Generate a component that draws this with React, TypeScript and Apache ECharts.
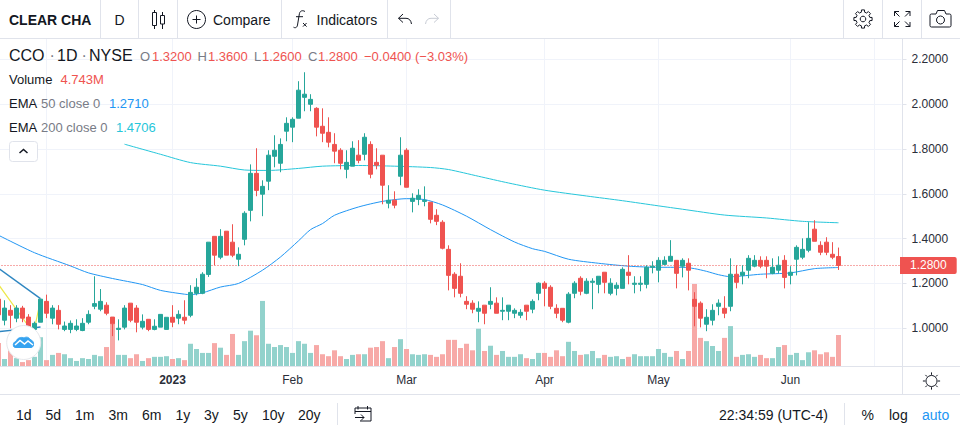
import React, { useEffect, useRef } from "react";
import * as echarts from "echarts";

// [open, close, low, high], oldest first
const candles: number[][] = [
  [1.13,1.06,1.04,1.14],[1.036,1.09,1.013,1.125],[1.08,1.058,1.0,1.103],[1.045,1.09,1.027,1.103],[1.09,1.045,1.027,1.1],
  [1.05,1.005,1.0,1.063],[0.995,1.022,0.99,1.03],[1.027,1.13,1.027,1.13],[1.12,1.067,1.045,1.15],[1.045,1.09,1.018,1.103],
  [1.08,1.018,0.995,1.103],[0.995,1.01,0.987,1.03],[0.995,1.022,0.978,1.035],[0.995,1.01,0.987,1.04],[0.99,1.022,0.987,1.045],
  [1.027,1.062,1.018,1.08],[1.098,1.11,1.085,1.232],[1.085,1.12,1.076,1.175],[1.103,1.067,1.058,1.116],[1.05,1.02,0.965,1.05],
  [0.995,1.0,0.946,1.04],[1.005,1.09,0.995,1.103],[1.112,1.036,1.027,1.112],[1.09,1.027,0.982,1.103],[1.005,1.031,0.995,1.062],
  [1.04,0.995,0.987,1.04],[0.995,1.009,0.991,1.04],[1.005,1.062,1.005,1.062],[0.995,1.049,0.995,1.049],[1.049,1.027,1.005,1.103],
  [1.045,1.062,1.018,1.08],[1.049,1.036,1.018,1.125],[1.058,1.16,1.049,1.192],[1.156,1.183,1.147,1.223],[1.156,1.241,1.152,1.25],
  [1.24,1.384,1.229,1.384],[1.41,1.326,1.281,1.41],[1.317,1.41,1.308,1.442],[1.433,1.326,1.326,1.433],[1.384,1.326,1.317,1.464],
  [1.308,1.33,1.277,1.361],[1.397,1.513,1.37,1.522],[1.526,1.691,1.477,1.731],[1.691,1.615,1.589,1.803],[1.598,1.633,1.5,1.66],
  [1.656,1.772,1.616,1.794],[1.767,1.794,1.718,1.861],[1.736,1.82,1.696,1.847],[1.879,1.914,1.834,1.941],[1.897,1.932,1.83,1.941],
  [1.937,2.062,1.937,2.102],[2.03,2.044,1.968,2.142],[1.999,2.021,1.968,2.044],[1.981,1.897,1.856,1.986],[1.901,1.87,1.83,1.981],
  [1.874,1.83,1.807,1.941],[1.82,1.79,1.736,1.87],[1.794,1.736,1.709,1.803],[1.709,1.74,1.669,1.794],[1.723,1.803,1.723,1.834],
  [1.772,1.749,1.736,1.839],[1.776,1.852,1.749,1.87],[1.82,1.687,1.669,1.834],[1.74,1.727,1.709,1.803],[1.772,1.638,1.553,1.772],
  [1.558,1.571,1.535,1.638],[1.571,1.549,1.535,1.611],[1.678,1.772,1.638,1.852],[1.794,1.629,1.629,1.803],[1.566,1.58,1.517,1.602],
  [1.575,1.593,1.549,1.62],[1.566,1.571,1.544,1.633],[1.562,1.486,1.468,1.562],[1.504,1.477,1.46,1.531],[1.473,1.357,1.352,1.482],
  [1.352,1.236,1.169,1.37],[1.241,1.178,1.138,1.25],[1.232,1.156,1.138,1.29],[1.12,1.107,1.085,1.143],[1.112,1.085,1.067,1.125],
  [1.076,1.089,1.027,1.12],[1.103,1.067,1.018,1.103],[1.107,1.12,1.085,1.183],[1.112,1.067,1.067,1.138],[1.076,1.08,1.036,1.138],
  [1.076,1.103,1.036,1.103],[1.067,1.08,1.045,1.089],[1.058,1.071,1.045,1.085],[1.103,1.076,1.036,1.103],[1.085,1.12,1.067,1.129],
  [1.156,1.201,1.125,1.205],[1.201,1.178,1.098,1.21],[1.183,1.098,1.085,1.192],[1.089,1.067,1.045,1.107],[1.089,1.036,1.027,1.089],
  [1.027,1.152,1.022,1.161],[1.156,1.201,1.134,1.21],[1.223,1.165,1.147,1.232],[1.156,1.21,1.152,1.223],[1.205,1.21,1.085,1.223],
  [1.196,1.232,1.156,1.232],[1.25,1.205,1.156,1.25],[1.156,1.201,1.147,1.223],[1.178,1.192,1.147,1.205],[1.178,1.263,1.178,1.272],
  [1.25,1.236,1.196,1.326],[1.196,1.201,1.156,1.232],[1.196,1.201,1.165,1.232],[1.196,1.272,1.178,1.281],[1.272,1.277,1.245,1.299],
  [1.259,1.303,1.205,1.317],[1.285,1.303,1.281,1.321],[1.299,1.321,1.299,1.393],[1.303,1.245,1.178,1.303],[1.277,1.303,1.227,1.312],
  [1.29,1.259,1.169,1.312],[1.129,1.098,1.009,1.161],[1.112,1.045,1.004,1.12],[1.018,1.049,0.987,1.085],[1.036,1.08,1.013,1.107],
  [1.098,1.112,1.058,1.129],[1.089,1.067,1.045,1.143],[1.098,1.241,1.076,1.312],[1.241,1.205,1.178,1.281],[1.236,1.25,1.196,1.281],
  [1.259,1.312,1.223,1.326],[1.277,1.303,1.272,1.326],[1.303,1.277,1.268,1.321],[1.303,1.277,1.223,1.321],[1.245,1.272,1.241,1.312],
  [1.259,1.281,1.245,1.321],[1.303,1.227,1.178,1.326],[1.236,1.25,1.196,1.277],[1.308,1.361,1.236,1.37],[1.317,1.352,1.308,1.401],
  [1.348,1.401,1.339,1.473],[1.442,1.388,1.388,1.482],[1.37,1.339,1.326,1.388],[1.384,1.339,1.326,1.406],[1.33,1.317,1.308,1.384],
  [1.32,1.28,1.26,1.36],
];

// millions of shares, oldest first
const volumes: number[] = [
  3.5,1.07,2.6,1.2,0.6,0.9,1.4,4.4,0.9,1.7,
  2.0,1.8,1.2,0.77,1.2,1.07,1.7,1.5,2.9,6.4,
  1.7,1.7,1.2,1.8,0.77,1.2,1.4,1.4,1.5,1.07,
  1.2,0.9,3.4,2.6,2.0,2.0,3.5,2.8,1.7,4.9,
  1.7,3.8,5.4,4.7,9.95,3.4,2.9,3.2,2.9,2.0,
  3.8,3.4,2.0,3.2,1.8,1.5,2.4,1.5,1.07,1.7,
  1.8,1.8,2.8,2.9,3.8,1.2,2.9,4.1,2.6,1.8,
  1.7,1.8,1.7,1.4,1.8,4.0,4.0,2.75,3.4,2.4,
  5.7,2.3,3.1,1.7,2.3,1.4,1.4,1.8,1.2,1.07,
  2.0,2.0,1.4,2.4,1.5,3.7,2.3,1.7,1.8,2.3,
  1.2,1.7,1.4,1.5,1.07,1.4,1.8,1.5,1.5,1.5,
  2.6,2.0,1.4,2.3,1.07,2.3,12.55,4.3,3.8,3.06,
  2.3,4.3,6.1,1.4,1.7,1.8,1.4,1.7,1.2,1.2,
  2.9,3.2,1.7,2.0,0.9,2.1,2.4,1.8,2.1,1.4,
  4.743,
];

const emptyBarsAfterLast = 10;
const tickIndexes = [8, 29, 49, 68, 91, 110, 132, 146];
const tickLabels = ["Dec", "2023", "Feb", "Mar", "Apr", "May", "Jun", "21"];
const priceTicks = [1.0, 1.2, 1.4, 1.6, 1.8, 2.0, 2.2];

// [bar index, value]
const ema50Points = [
  [0,1.415],[6,1.337],[12,1.278],[15,1.247],[19,1.222],[24,1.195],[27,1.169],[31,1.152],[32,1.15],[34,1.158],
  [37,1.184],[40,1.2],[44,1.259],[47,1.318],[50,1.39],[52,1.44],[54,1.467],[56,1.504],[60,1.541],[64,1.566],[68,1.578],
  [71,1.574],[74,1.55],[78,1.5],[82,1.44],[86,1.385],[89,1.355],[91,1.343],[95,1.308],[100,1.29],[105,1.277],
  [110,1.272],[114,1.272],[116,1.266],[118,1.254],[120,1.239],[122,1.23],[127,1.241],[132,1.247],[136,1.266],[140,1.271],
];
const ema200Points = [
  [21,1.821],[27,1.776],[32,1.739],[37,1.723],[41,1.706],[45,1.704],[50,1.713],[54,1.723],[60,1.726],[66,1.723],
  [72,1.717],[75,1.708],[80,1.678],[85,1.648],[91,1.616],[98,1.59],[104,1.569],[110,1.546],[114,1.531],[121,1.505],
  [128,1.492],[134,1.477],[140,1.4706],
];
const extraLineA = [[0,1.268],[7,1.132]];
const extraLineB = [[0,0.985],[4,0.996],[7,1.006]];
const extraLineC = [[0,1.195],[5,1.009],[6,0.998],[7,1.125]];

const periods = ["1d", "5d", "1m", "3m", "6m", "1y", "3y", "5y", "10y", "20y"];
const periodX = [16, 45.5, 75, 108.5, 142, 175.5, 204, 233, 262, 298];

const UP = "#26a69a", DOWN = "#ef5350", UPV = "#92d2cc", DOWNV = "#f7a9a7";
const INK = "#131722", MUTED = "#787b86", RULE = "#e0e3eb", GRID = "#f0f3fa", BLUE = "#2196f3", CYAN = "#26c6da";
const FONT = "'Liberation Sans', Arial, sans-serif";

function gearPath(cx: number, cy: number) {
  const n = 8, ro = 9.2, ri = 7;
  let d = "";
  for (let i = 0; i < n; i++) {
    const a = (i * 2 * Math.PI) / n - Math.PI / 2, s = Math.PI / n;
    const pts: number[][] = [[a - s * 0.42, ro], [a + s * 0.42, ro], [a + s * 0.6, ri], [a + s * 1.4, ri]];
    pts.forEach(([t, r], j) => {
      d += (i === 0 && j === 0 ? "M" : "L") + (cx + r * Math.cos(t)).toFixed(2) + " " + (cy + r * Math.sin(t)).toFixed(2);
    });
  }
  return d + "Z";
}
function sunPath(cx: number, cy: number) {
  let d = "";
  for (let i = 0; i < 8; i++) {
    const a = (i * Math.PI) / 4;
    d += "M" + (cx + 6.2 * Math.cos(a)).toFixed(2) + " " + (cy + 6.2 * Math.sin(a)).toFixed(2) +
      "L" + (cx + 8.6 * Math.cos(a)).toFixed(2) + " " + (cy + 8.6 * Math.sin(a)).toFixed(2);
  }
  return d;
}

const icons: Record<string, string> = {
  icCandle: "M152.5 12.5h4v13h-4zM154.5 10v2.5M154.5 25.5v3.5M160.5 15.5h4v8.5h-4zM162.5 12v3.5M162.5 24v5",
  icPlus: "M192.5 19.5h8M196.5 15.5v8",
  icF: "M305 11.5c-2.5-1.5-5-.8-5.6 2.2L297.5 25c-.5 2.8-2.3 3.2-4 2.2M296 16.7h7",
  icX: "M303 23l3.6 3.6M306.6 23L303 26.6",
  icUndo: "M403 14l-4.5 4.3 4.5 4.2M398.5 18.3h7.5c3 0 5 2 5.5 5.7",
  icRedo: "M434 14l4.5 4.3-4.5 4.2M438.5 18.3h-7.5c-3 0-5 2-5.5 5.7",
  icGear: gearPath(863, 19),
  icFull: "M894.5 16v-4.5h4.5M894.5 11.5l5 5M910 16v-4.5h-4.5M910 11.5l-5 5M894.5 22v4.5h4.5M894.5 26.5l5-5M910 22v4.5h-4.5M910 26.5l-5-5",
  icCam: "M932 14h4l1.5-3.5h7l1.5 3.5h3.5a1.5 1.5 0 0 1 1.5 1.5v10a1.5 1.5 0 0 1-1.5 1.5h-18a1.5 1.5 0 0 1-1.5-1.5v-10a1.5 1.5 0 0 1 1.5-1.5z",
  icCal: "M355 414v-6h16v13h-11M355 411.5h16M358 406v3.5M367.5 406v3.5M355 417.5h9M361 414.5l3 3-3 3",
  icSun: sunPath(931.5, 381),
  icChev: "M19.5 153l4-3.5 4 3.5",
  icCloud: "M14 347c-1.5-2.5-.5-5 2-5.5 1-3.5 5-5 8-3.5 2-1.5 5-1 6 1.5 2.5.5 4 3 3.5 5.5-.3 1.5-1.2 2.5-2.5 2.5H16c-.8 0-1.5-.2-2-.5z",
  icWave: "M15 345l5-4.5 4.5 3.5 3.5-3 5 4",
};
Object.keys(icons).forEach((k) => {
  echarts.graphic.registerShape(k, echarts.graphic.extendPath(icons[k], {}));
});

function txt(text: string, x: number, y: number, fill = INK, size = 14, weight = "normal", align = "left") {
  return {
    type: "text", z: 100, silent: true, x, y,
    style: { text, fill, font: `${weight} ${size}px ${FONT}`, align, verticalAlign: "middle" },
  };
}
function ln(x1: number, y1: number, x2: number, y2: number, stroke = RULE) {
  return { type: "line", z: 90, silent: true, shape: { x1, y1, x2, y2 }, style: { stroke, lineWidth: 1 } };
}
function ic(type: string, stroke = INK, lineWidth = 1, fill = "none") {
  return { type, z: 100, silent: true, x: 0, y: 0, style: { stroke, lineWidth, fill } };
}

function buildOption() {
  const last = candles[candles.length - 1];
  const total = candles.length + emptyBarsAfterLast;
  const categories = Array.from({ length: total }, (_, i) => String(i));
  const labelFor = (i: number) => tickLabels[tickIndexes.indexOf(i)];
  const showTick = (i: number) => tickIndexes.indexOf(i) >= 0;
  const chg = last[1] - last[0];
  const vRows = volumes.map((v, i) => ({
    value: v,
    itemStyle: { color: candles[i][1] >= candles[i][0] ? UPV : DOWNV },
  }));
  const lineSeries = (name: string, data: number[][], color: string, width = 1, smooth = 0) => ({
    name, type: "line", xAxisIndex: 0, yAxisIndex: 0, data, symbol: "none", silent: true,
    lineStyle: { color, width }, z: 4, smooth,
  });

  const graphic = [
    ln(0, 38.5, 960, 38.5),
    ln(0, 366.5, 960, 366.5),
    ln(0, 394.5, 960, 394.5),
    ln(902.5, 366.5, 902.5, 394.5),
    ...[100.5, 138.5, 177.5, 281.5, 387.5, 450.5, 843.5, 882.5, 921.5].map((x) => ln(x, 0, x, 38)),
    ln(337.5, 403, 337.5, 425),
    ln(844.5, 403, 844.5, 425),

    txt("CLEAR CHA", 9, 19.5, INK, 14, "bold"),
    txt("D", 114.5, 19.5),
    ic("icCandle"),
    { type: "circle", z: 100, silent: true, shape: { cx: 196.5, cy: 19.5, r: 9 }, style: { stroke: INK, fill: "none", lineWidth: 1 } },
    ic("icPlus"),
    txt("Compare", 213, 19.5),
    ic("icF"), ic("icX"),
    txt("Indicators", 316.5, 19.5),
    ic("icUndo"), ic("icRedo", "#c8ccd5"),
    ic("icGear"),
    { type: "circle", z: 100, silent: true, shape: { cx: 863, cy: 19, r: 2.8 }, style: { stroke: INK, fill: "none", lineWidth: 1 } },
    ic("icFull"), ic("icCam"),
    { type: "circle", z: 100, silent: true, shape: { cx: 940.5, cy: 20, r: 4 }, style: { stroke: INK, fill: "none", lineWidth: 1 } },

    txt("CCO", 9, 55, INK, 16),
    txt("·", 49.5, 55, MUTED, 16),
    txt("1D", 57, 55, INK, 16),
    txt("·", 81.5, 55, MUTED, 16),
    txt("NYSE", 89, 55, INK, 16),
    txt("O", 140, 56.5, MUTED, 13), txt(last[0].toFixed(4), 152, 56.5, DOWN, 13),
    txt("H", 197.5, 56.5, MUTED, 13), txt(last[3].toFixed(4), 208, 56.5, DOWN, 13),
    txt("L", 254, 56.5, MUTED, 13), txt(last[2].toFixed(4), 262, 56.5, DOWN, 13),
    txt("C", 308, 56.5, MUTED, 13), txt(last[1].toFixed(4), 318, 56.5, DOWN, 13),
    txt("−" + Math.abs(chg).toFixed(4) + " (−" + ((Math.abs(chg) / last[0]) * 100).toFixed(2) + "%)", 364, 56.5, DOWN, 13),

    txt("Volume", 9, 79.5, INK, 13),
    txt(volumes[volumes.length - 1].toFixed(3) + "M", 60.5, 79.5, DOWN, 13),
    txt("EMA", 9, 103.5, INK, 13),
    txt("50 close 0", 41, 103.5, MUTED, 13),
    txt(ema50Points[ema50Points.length - 1][1].toFixed(4), 109, 103.5, BLUE, 13),
    txt("EMA", 9, 127.5, INK, 13),
    txt("200 close 0", 41, 127.5, MUTED, 13),
    txt(ema200Points[ema200Points.length - 1][1].toFixed(4), 116, 127.5, CYAN, 13),
    { type: "rect", z: 100, silent: true, shape: { x: 9.5, y: 141.5, width: 28, height: 20, r: 3 }, style: { stroke: RULE, fill: "#fff", lineWidth: 1 } },
    ic("icChev", INK, 1.5),

    { type: "circle", z: 110, silent: true, shape: { cx: 23.7, cy: 342.5, r: 17 }, style: { fill: "#ffffff", stroke: "#e6e8ec", lineWidth: 1 } },
    { type: "icCloud", z: 111, silent: true, x: 0, y: 0, style: { fill: "#36a3f0", stroke: "#36a3f0", lineWidth: 1 } },
    { type: "icWave", z: 112, silent: true, x: 0, y: 0, style: { fill: "none", stroke: "#ffffff", lineWidth: 1.5 } },

    ...periods.map((p, i) => txt(p, periodX[i], 414.5)),
    ic("icCal"),
    txt("22:34:59 (UTC-4)", 719, 414.5),
    txt("%", 861.5, 414.5),
    txt("log", 889, 414.5),
    txt("auto", 922, 414.5, BLUE),

    { type: "circle", z: 100, silent: true, shape: { cx: 931.5, cy: 381, r: 5.5 }, style: { stroke: INK, fill: "none", lineWidth: 1 } },
    ic("icSun"),
  ];

  return {
    animation: false,
    backgroundColor: "#ffffff",
    textStyle: { fontFamily: FONT },
    graphic,
    grid: [
      { left: -4.5, top: 39, width: 6 * total, height: 327, containLabel: false, outerBoundsMode: "none" },
      { left: -4.5, top: 39, width: 6 * total, height: 327, containLabel: false, outerBoundsMode: "none" },
    ],
    xAxis: [
      {
        type: "category", gridIndex: 0, data: categories, boundaryGap: true,
        axisLine: { show: false },
        axisTick: { show: false },
        splitLine: { show: true, alignWithLabel: true, interval: (i: number) => showTick(i), lineStyle: { color: GRID, width: 1 } },
        axisLabel: {
          show: true, interval: (i: number) => showTick(i), margin: 8, color: "#2a2e39", fontSize: 12, fontFamily: FONT,
          hideOverlap: false, showMinLabel: false, showMaxLabel: false,
          formatter: (_v: string, i: number) => (labelFor(i) === "2023" ? "{b|2023}" : labelFor(i) || ""),
          rich: { b: { fontWeight: "bold", fontSize: 12, fontFamily: FONT, color: "#2a2e39" } },
        },
      },
      { type: "category", gridIndex: 1, data: categories, boundaryGap: true, show: false },
    ],
    yAxis: [
      {
        type: "value", gridIndex: 0, position: "right", min: 0.83174, max: 2.29024, offset: 1, scale: true,
        axisLine: { show: true, onZero: false, lineStyle: { color: RULE } },
        axisTick: { show: true, length: 4, customValues: priceTicks, lineStyle: { color: RULE } },
        splitLine: { show: true, lineStyle: { color: GRID, width: 1 } },
        axisLabel: {
          show: true, margin: 9, color: "#2a2e39", fontSize: 12, fontFamily: FONT, customValues: priceTicks,
          formatter: (v: number) => v.toFixed(4),
        },
      },
      { type: "value", gridIndex: 1, min: 0, max: 50, show: false, splitLine: { show: false } },
    ],
    series: [
      {
        name: "Volume", type: "bar", xAxisIndex: 1, yAxisIndex: 1, data: vRows, barWidth: 5, silent: true, z: 1,
      },
      lineSeries("EMA 200", ema200Points, CYAN, 1, 0.25),
      lineSeries("EMA 50", ema50Points, BLUE, 1, 0.25),
      lineSeries("Line A", extraLineA, "#2e86c1", 1.4),
      lineSeries("Line B", extraLineB, "#2e86c1", 1.4),
      lineSeries("Line C", extraLineC, "#ede84a", 1.2),
      {
        name: "CCO", type: "candlestick", xAxisIndex: 0, yAxisIndex: 0, data: candles, barWidth: 4, silent: true, z: 5,
        itemStyle: { color: UP, color0: DOWN, borderColor: UP, borderColor0: DOWN, borderWidth: 1 },
        markLine: {
          silent: true, symbol: "none", animation: false,
          lineStyle: { color: DOWN, type: [1, 2], width: 1 },
          data: [{ yAxis: last[1], lineStyle: { color: DOWN, type: [1, 2], width: 1 } }],
          label: {
            show: true, position: "end", distance: 0, offset: [-1.5, 0], formatter: last[1].toFixed(4),
            color: "#fff", backgroundColor: DOWN, fontSize: 12, fontFamily: FONT,
            padding: [2.5, 10, 2.5, 10], borderRadius: [0, 2, 2, 0], lineHeight: 12,
          },
        },
      },
    ],
  };
}

export default function App() {
  const ref = useRef<HTMLDivElement>(null);
  useEffect(() => {
    document.body.style.margin = "0";
    const chart = echarts.init(ref.current!, undefined, { renderer: "svg" });
    chart.setOption(buildOption() as any);
    return () => chart.dispose();
  }, []);
  return <div ref={ref} style={{ width: 960, height: 433 }} />;
}
